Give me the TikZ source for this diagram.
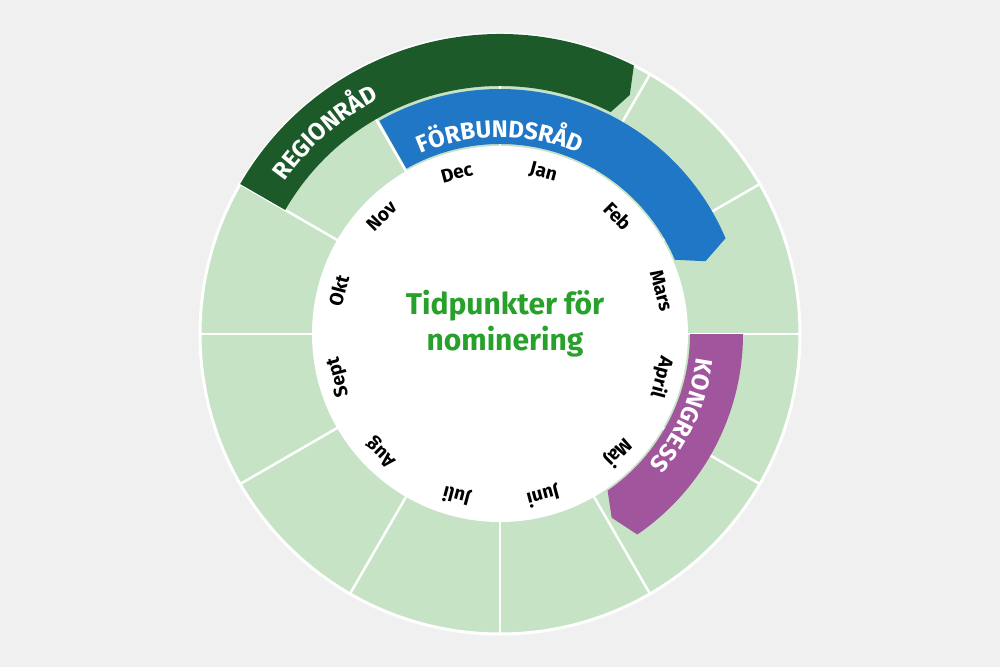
\documentclass[tikz,border=0pt]{standalone}
\usepackage{fontspec}
\setmainfont{Fira Sans}
\usetikzlibrary{decorations.text}
\definecolor{bg}{HTML}{F1F0F0}
\definecolor{lg}{HTML}{C6E3C5}
\definecolor{rg}{HTML}{1C5A2A}
\definecolor{fb}{HTML}{1F77C6}
\definecolor{kp}{HTML}{A0559C}
\definecolor{tg}{HTML}{27A12B}
\tikzset{
 month/.style={font=\fontsize{19}{19}\selectfont\bfseries, text=black, inner sep=0pt},
 sep/.style={white, line width=2.5pt},
}
\begin{document}
\begin{tikzpicture}[x=1pt,y=1pt]
\fill[bg] (-500,-333) rectangle (500,334);
\useasboundingbox (-500,-333) rectangle (500,334);
\fill[lg] (0,0) circle[radius=300];
\draw[white, line width=3pt] (0,0) circle[radius=300];
\foreach \a in {0,30,...,330} \draw[sep] (\a:188) -- (\a:300);
\fill[white] (0,0) circle[radius=188];
% bands
\fill[rg] (150:300) arc[start angle=150,end angle=63.5,radius=300] -- (61.5:272) -- (63.5:248) arc[start angle=63.5,end angle=150,radius=248] -- cycle;
\fill[fb] (119.5:245) arc[start angle=119.5,end angle=23,radius=245] -- (19.5:218) -- (23:190) arc[start angle=23,end angle=119.5,radius=190] -- cycle;
\fill[kp] (0:243) arc[start angle=0,end angle=-55.6,radius=243] -- (-58.7:215) -- (-55.5:190) arc[start angle=-55.5,end angle=0,radius=190] -- cycle;
% band labels
\path[decorate,decoration={text along path,text align=center,text={|\color{white}\fontsize{24}{24}\selectfont\bfseries|REGIONRÅD}}]
 (150:264) arc[start angle=150,end angle=112,radius=264];
\path[decorate,decoration={text along path,text align=center,text={|\color{white}\fontsize{24}{24}\selectfont\bfseries|FÖRBUNDSRÅD}}]
 (125:197) arc[start angle=125,end angle=55,radius=197];
\path[decorate,decoration={text along path,text align=center,text={|\color{white}\fontsize{24}{24}\selectfont\bfseries|KONGRESS}}]
 (2:198) arc[start angle=2,end angle=-50,radius=198];
% months
\foreach \m [count=\i from 0] in {Jan,Feb,Mars,April,Maj,Juni,Juli,Aug,Sept,Okt,Nov,Dec}{
  \pgfmathsetmacro{\ang}{75-30*\i}
  \node[month, rotate=\ang-90] (m\i) at (\ang:167) {\m};
}
\node[align=center, text=tg, font=\fontsize{30}{36}\selectfont\bfseries] (title) at (5,10) {Tidpunkter för\\nominering};
\end{tikzpicture}
\end{document}
